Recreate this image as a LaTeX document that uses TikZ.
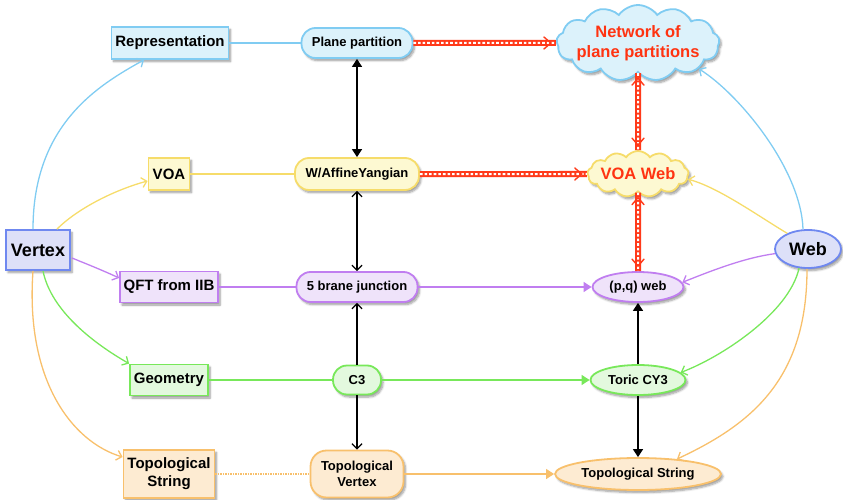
\documentclass[tikz,border=0pt]{standalone}
\usepackage{fontspec}
\setmainfont{Liberation Sans}
\usetikzlibrary{arrows.meta,calc,shapes.geometric,shapes.symbols,shadows.blur}

\definecolor{bluefill}{HTML}{DCF2FB}
\definecolor{blueline}{HTML}{80CCF2}
\definecolor{yelfill}{HTML}{FDF9D2}
\definecolor{yelline}{HTML}{F6DC6A}
\definecolor{vwfill}{HTML}{DDE0F8}
\definecolor{vwline}{HTML}{6F88F0}
\definecolor{purfill}{HTML}{EFE3FA}
\definecolor{purline}{HTML}{C07EF0}
\definecolor{grnfill}{HTML}{E3F9DE}
\definecolor{grnline}{HTML}{78E85A}
\definecolor{orgfill}{HTML}{FDEBD2}
\definecolor{orgline}{HTML}{F8C06C}
\definecolor{pipered}{HTML}{FF3A1A}
\definecolor{redtext}{HTML}{FF3311}

% thick red pipe with a white dashed core
\newcommand\redpipe[2]{%
  \draw[line width=6pt, pipered] (#1) -- (#2);
  \draw[line width=2pt, white, dash pattern=on 2.6pt off 2pt] (#1) -- (#2);
}
% open red chevron near end #2 of a pipe coming from #1
\newcommand\redhead[2]{%
  \draw[pipered, line width=1.4pt, line cap=round]
    ($(#2)!12pt!(#1)!6pt!90:(#2)$) -- ($(#2)!5pt!(#1)$) -- ($(#2)!12pt!(#1)!6pt!-90:(#2)$);
}

\tikzset{
  base/.style={draw, line width=1.8pt, inner sep=0pt, align=center,
    font=\bfseries\fontsize{13}{15.5}\selectfont,
    blur shadow={shadow xshift=2pt, shadow yshift=-2.5pt, shadow blur steps=6, shadow opacity=40}},
  box/.style={base, rectangle, font=\bfseries\fontsize{15}{18}\selectfont},
  pill/.style={base, rectangle, rounded corners=14pt},
  oval/.style={base, ellipse},
  puff/.style={base, cloud, cloud ignores aspect, text=redtext,
    font=\bfseries\fontsize{16.5}{19.5}\selectfont},
  cblue/.style={draw=blueline, fill=bluefill},
  cyel/.style={draw=yelline, fill=yelfill},
  cvw/.style={draw=vwline, fill=vwfill},
  cpur/.style={draw=purline, fill=purfill},
  cgrn/.style={draw=grnline, fill=grnfill},
  corg/.style={draw=orgline, fill=orgfill},
  link/.style={line width=1.3pt},
  barb/.style={-{Straight Barb[length=5pt,width=10pt]}},
  bibarb/.style={{Straight Barb[length=5pt,width=10pt]}-{Straight Barb[length=5pt,width=10pt]}},
  tri/.style={-{Triangle[length=8pt,width=10pt]}},
  bitri/.style={{Triangle[length=8pt,width=10pt]}-{Triangle[length=8pt,width=10pt]}},
}

\begin{document}
\begin{tikzpicture}[x=1pt,y=-1pt]
\useasboundingbox (0,0) rectangle (843,500);

% left column
\node[box, cblue, minimum width=117pt, minimum height=32pt] (rep) at (170,43) {Representation};
\node[box, cyel, minimum width=41pt, minimum height=32pt] (voa) at (169,174) {VOA};
\node[box, cpur, minimum width=98pt, minimum height=31pt] (qft) at (169,287) {QFT from IIB};
\node[box, cgrn, minimum width=78pt, minimum height=31pt] (geo) at (169,380) {Geometry};
\node[box, corg, minimum width=91pt, minimum height=48pt] (tsl) at (169,474) {Topological\\String};

% hubs
\node[box, cvw, minimum width=64pt, minimum height=40pt, font=\bfseries\fontsize{18}{21}\selectfont] (vtx) at (38,250) {Vertex};
\node[oval, cvw, minimum width=66pt, minimum height=38pt, font=\bfseries\fontsize{18}{21}\selectfont] (web) at (808,249) {Web};

% middle column
\node[pill, cblue, minimum width=111pt, minimum height=30pt] (pp) at (357,43) {Plane partition};
\node[pill, cyel, minimum width=124pt, minimum height=32pt] (way) at (357,174) {W/AffineYangian};
\node[pill, cpur, minimum width=121pt, minimum height=30pt] (fbj) at (357,287) {5 brane junction};
\node[pill, cgrn, minimum width=48pt, minimum height=29pt] (c3) at (357,380) {C3};
\node[base, rectangle, rounded corners=16pt, corg, minimum width=93pt, minimum height=47pt] (tv) at (357,474) {Topological\\Vertex};

% right column
\node[puff, cblue, cloud puffs=13, cloud puff arc=110, inner xsep=-20pt, inner ysep=-10pt,
      minimum width=163pt, minimum height=76pt] (net) at (638,43) {Network of\\plane partitions};
\node[puff, cyel, cloud puffs=13, cloud puff arc=110, inner xsep=-15pt, inner ysep=-8pt,
      minimum width=101pt, minimum height=46pt] (vweb) at (638,174) {VOA Web};
\node[oval, cpur, minimum width=91pt, minimum height=30pt] (pqw) at (638,287) {(p,q) web};
\node[oval, cgrn, minimum width=95pt, minimum height=30pt] (tcy) at (638,380) {Toric CY3};
\node[oval, corg, minimum width=166pt, minimum height=32pt] (tsr) at (638,474) {Topological String};

% rows
\draw[link, blueline] (rep) -- (pp);
\draw[link, yelline] (voa) -- (way);
\draw[link, purline] (qft) -- (fbj);
\draw[link, purline, tri] (fbj) -- (pqw);
\draw[link, grnline] (geo) -- (c3);
\draw[link, grnline, tri] (c3) -- (tcy);
\draw[line width=2.6pt, orgline, dash pattern=on 1.4pt off 1.1pt] (tsl) -- (tv);
\draw[link, orgline, tri] (tv) -- (tsr);

% middle column links
\draw[link, black, bitri] (pp) -- (way);
\draw[link, black, bibarb] (way) -- (fbj);
\draw[link, black, barb] (c3) -- (fbj);
\draw[link, black, barb] (c3) -- (tv);

% right column links
\draw[link, black, tri] (tcy) -- (pqw);
\draw[link, black, tri] (tcy) -- (tsr);

% red pipes
\redpipe{pp.east}{net.west}
\redhead{pp.east}{net.west}
\redpipe{way.east}{vweb.west}
\redhead{way.east}{vweb.west}
\redpipe{net.south}{vweb.north}
\redhead{net.south}{vweb.north}
\redhead{vweb.north}{net.south}
\redpipe{vweb.south}{pqw.north}
\redhead{vweb.south}{pqw.north}
\redhead{pqw.north}{vweb.south}

% from Vertex
\draw[link, blueline, barb] ($(vtx.north)+(-5,0)$) .. controls +(0,-105) and +(-45,25) .. ($(rep.south)+(-26,0)$);
\draw[link, yelline, barb] ($(vtx.north)+(19,0)$) .. controls +(22,-22) and +(-30,8) .. ($(voa.west)+(0,7)$);
\draw[link, purline, barb] ($(vtx.east)+(1,8)$) .. controls +(15,6) and +(-15,-7) .. ($(qft.west)+(0,-9)$);
\draw[link, grnline, barb] ($(vtx.south)+(5,0)$) .. controls +(8,40) and +(-35,-20) .. (geo.north west);
\draw[link, orgline, barb] ($(vtx.south)+(-5,0)$) .. controls +(-8,110) and +(-50,-15) .. ($(tsl.west)+(0,-17)$);

% from Web
\draw[link, blueline, barb] ($(web.north)+(-5,0)$) .. controls +(-2,-60) and +(40,25) .. (net.-23);
\draw[link, yelline, barb] (web.143) .. controls +(-30,-18) and +(30,8) .. (vweb.-6);
\draw[link, purline, barb] (web.188) .. controls +(-30,4) and +(30,-12) .. (pqw.6);
\draw[link, grnline, barb] (web.-115) .. controls +(-10,45) and +(40,-15) .. (tcy.10);
\draw[link, orgline, barb] ($(web.south)+(-1,0)$) .. controls +(0,110) and +(75,-35) .. (tsr.21);
\end{tikzpicture}
\end{document}
